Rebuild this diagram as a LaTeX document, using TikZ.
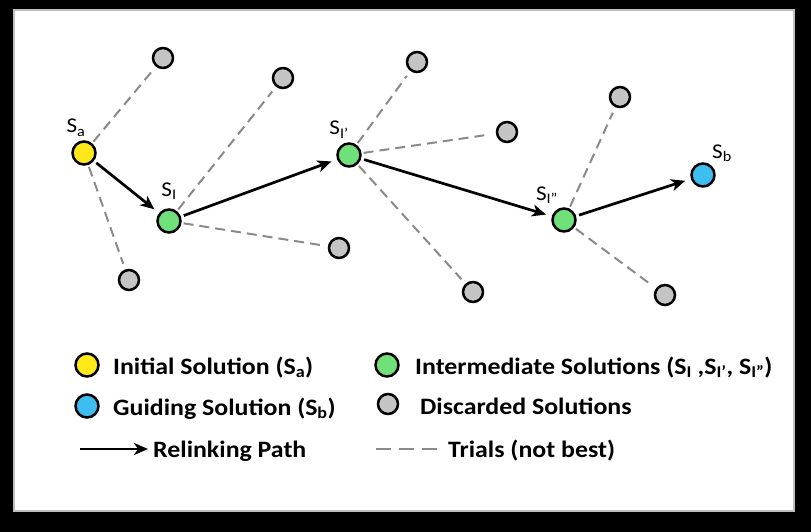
\documentclass[tikz,border=0pt]{standalone}
\usepackage{fontspec}
\setmainfont{Carlito}[FakeStretch=1.1]
\usetikzlibrary{arrows.meta}
\definecolor{solyellow}{HTML}{FFE81A}
\definecolor{solgreen}{HTML}{6FE07A}
\definecolor{solblue}{HTML}{3DBDF0}
\definecolor{solgray}{HTML}{C4C4C4}
\definecolor{trialgray}{HTML}{8A8A8A}
\tikzset{
  sol/.style={circle, draw=black, line width=2.5pt, minimum size=23pt, inner sep=0pt},
  initsol/.style={sol, fill=solyellow},
  midsol/.style={sol, fill=solgreen},
  guidesol/.style={sol, fill=solblue},
  discsol/.style={sol, fill=solgray, minimum size=20pt},
  relink/.style={-{Stealth[length=14pt,width=12pt,inset=4pt]}, line width=2.7pt, black, shorten >=6pt, shorten <=3pt},
  trial/.style={trialgray, line width=2pt, dash pattern=on 10pt off 6pt, shorten >=6pt, shorten <=2pt},
  lbl/.style={font=\fontsize{21}{23}\selectfont, inner sep=0pt, anchor=base},
  legtext/.style={font=\bfseries\fontsize{23.5}{26}\selectfont, anchor=base west, inner sep=0pt},
}
\begin{document}
\begin{tikzpicture}[x=1pt,y=-1pt]
  \useasboundingbox (0,0) rectangle (811,532);
  \fill[black] (0,0) rectangle (811,532);
  \fill[white] (13,9) rectangle (795,512);
  \draw[black!25, line width=2pt] (14,10) rectangle (794,511);
  % main solutions
  \node[initsol]  (sa)  at (84,153) {};
  \node[midsol]   (si)  at (169,221) {};
  \node[midsol]   (si1) at (349,155) {};
  \node[midsol]   (si2) at (564,220) {};
  \node[guidesol] (sb)  at (703,175) {};
  % discarded
  \node[discsol] (g1) at (163,58) {};
  \node[discsol] (g2) at (283,78) {};
  \node[discsol] (g3) at (417,62) {};
  \node[discsol] (g4) at (507,132) {};
  \node[discsol] (g5) at (620,97) {};
  \node[discsol] (g6) at (339,248) {};
  \node[discsol] (g7) at (129,280) {};
  \node[discsol] (g8) at (473,292) {};
  \node[discsol] (g9) at (665,295) {};
  % labels
  \node[lbl] (lsa)  at (76,133) {S\textsubscript{a}};
  \node[lbl] (lsi)  at (169,196) {S\textsubscript{I}};
  \node[lbl] (lsi1) at (339,135) {S\textsubscript{I'}};
  \node[lbl] (lsi2) at (547,200) {S\textsubscript{I''}};
  \node[lbl] (lsb)  at (722,158) {S\textsubscript{b}};
  % trials
  \draw[trial] (sa) -- (g1);
  \draw[trial] (sa) -- (g7);
  \draw[trial] (si) -- (g2);
  \draw[trial] (si) -- (g6);
  \draw[trial] (si1) -- (g3);
  \draw[trial] (si1) -- (g4);
  \draw[trial] (si1) -- (g8);
  \draw[trial] (si2) -- (g5);
  \draw[trial] (si2) -- (g9);
  % relinking path
  \draw[relink] (sa) -- (si);
  \draw[relink] (si) -- (si1);
  \draw[relink] (si1) -- (si2);
  \draw[relink] (si2) -- (sb);
  % legend
  \node[initsol]  (ly) at (87,365) {};
  \node[guidesol] (lb) at (87,406) {};
  \node[midsol]   (lg) at (387,365) {};
  \node[discsol]  (lr) at (388,404) {};
  \coordinate (la1) at (80,449);
  \coordinate (la2) at (148,449);
  \draw[relink, shorten >=0pt, shorten <=0pt] (la1) -- (la2);
  \coordinate (ld1) at (376,449);
  \coordinate (ld2) at (437,449);
  \draw[trial, shorten >=0pt, shorten <=0pt, dash pattern=on 15pt off 8pt] (ld1) -- (ld2);
  \node[legtext] (t1) at (113,374) {Initial Solution (S\textsubscript{a})};
  \node[legtext] (t2) at (113,415) {Guiding Solution (S\textsubscript{b})};
  \node[legtext] (t3) at (153,457) {Relinking Path};
  \node[legtext] (t4) at (415,374) {Intermediate Solutions (S\textsubscript{I} ,S\textsubscript{I'}, S\textsubscript{I''})};
  \node[legtext] (t5) at (420,414) {Discarded Solutions};
  \node[legtext] (t6) at (448,457) {Trials (not best)};
\end{tikzpicture}
\end{document}
